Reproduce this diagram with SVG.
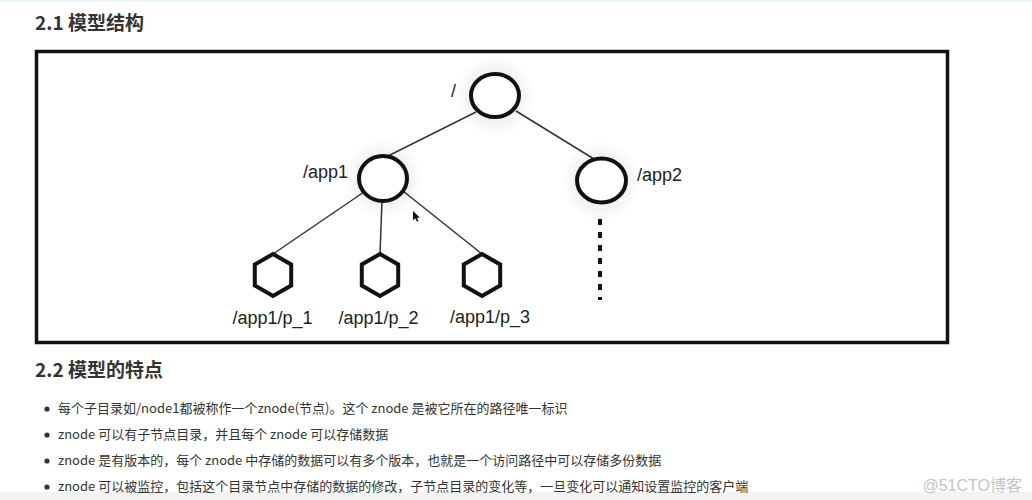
<svg xmlns="http://www.w3.org/2000/svg" width="1032" height="500" viewBox="0 0 1032 500">
  <style>
    .h { font-family: "Noto Sans CJK SC", "Noto Sans", sans-serif; font-size: 19px; font-weight: bold; fill: #333; }
    .li { font-family: "Noto Sans CJK SC", "Noto Sans", sans-serif; font-size: 13px; fill: #333; }
    .lbl { font-family: "Liberation Sans", Arial, sans-serif; font-size: 18px; fill: #222; }
    .circ { fill: #fff; stroke: #111; stroke-width: 4; }
    .hex { fill: #fff; stroke: #111; stroke-width: 4; stroke-linejoin: miter; }
    .conn { stroke: #333; stroke-width: 1.5; fill: none; }
    .halo { fill: url(#glow); }
  </style>
  <defs>
    <radialGradient id="glow">
      <stop offset="0.5" stop-color="#000" stop-opacity="0.07"/>
      <stop offset="1" stop-color="#000" stop-opacity="0"/>
    </radialGradient>
  </defs>
  <rect x="0" y="0" width="1032" height="500" fill="#fff"/>
  <rect x="0" y="0" width="1032" height="2" fill="#e6f5f9"/>
  <rect x="0" y="492" width="1032" height="8" fill="#f3f3f3"/>

  <text class="h" x="35" y="30">2.1 模型结构</text>

  <rect id="frame" x="36.5" y="51.5" width="911" height="291" fill="#fff" stroke="#111" stroke-width="3.5"/>

  <g id="connectors">
    <line class="conn" x1="476" y1="112" x2="388" y2="156"/>
    <line class="conn" x1="516" y1="111" x2="594" y2="159"/>
    <line class="conn" x1="364" y1="192" x2="273" y2="254"/>
    <line class="conn" x1="382" y1="201" x2="380" y2="254"/>
    <line class="conn" x1="403" y1="191" x2="482" y2="254"/>
    <line x1="600" y1="219" x2="600" y2="300" stroke="#111" stroke-width="4" stroke-dasharray="6 7"/>
  </g>

  <g id="node-root">
    <circle class="halo" cx="495" cy="96" r="40"/>
    <ellipse class="circ" cx="495" cy="95.5" rx="24" ry="21.5"/>
    <text class="lbl" x="451" y="97">/</text>
  </g>
  <g id="node-app1">
    <circle class="halo" cx="383" cy="179" r="40"/>
    <ellipse class="circ" cx="383" cy="178.5" rx="24" ry="22.5"/>
    <text class="lbl" x="303" y="178">/app1</text>
  </g>
  <g id="node-app2">
    <circle class="halo" cx="601" cy="181" r="40"/>
    <ellipse class="circ" cx="601.5" cy="180.5" rx="24.5" ry="22"/>
    <text class="lbl" x="637" y="181">/app2</text>
  </g>
  <g id="node-p1">
    <polygon class="hex" points="273,254 291.2,264.5 291.2,285.5 273,296 254.8,285.5 254.8,264.5"/>
    <text class="lbl" x="272.5" y="324" text-anchor="middle">/app1/p_1</text>
  </g>
  <g id="node-p2">
    <polygon class="hex" points="380,254 398.2,264.5 398.2,285.5 380,296 361.8,285.5 361.8,264.5"/>
    <text class="lbl" x="378.5" y="324" text-anchor="middle">/app1/p_2</text>
  </g>
  <g id="node-p3">
    <polygon class="hex" points="482,254 500.2,264.5 500.2,285.5 482,296 463.8,285.5 463.8,264.5"/>
    <text class="lbl" x="490" y="323" text-anchor="middle">/app1/p_3</text>
  </g>

  <path d="M413,211 l0,9.5 l2.3,-2.2 l1.7,3.4 l1.5,-0.7 l-1.7,-3.3 l3.2,0 z" fill="#111"/>

  <text class="h" x="35" y="377">2.2 模型的特点</text>

  <g fill="#333">
    <circle cx="47" cy="409" r="2.6"/>
    <circle cx="47" cy="435" r="2.6"/>
    <circle cx="47" cy="461" r="2.6"/>
    <circle cx="47" cy="487" r="2.6"/>
  </g>
  <text class="li" x="58" y="413">每个子目录如/node1都被称作一个znode(节点)。这个 znode 是被它所在的路径唯一标识</text>
  <text class="li" x="58" y="439">znode 可以有子节点目录，并且每个 znode 可以存储数据</text>
  <text class="li" x="58" y="465">znode 是有版本的，每个 znode 中存储的数据可以有多个版本，也就是一个访问路径中可以存储多份数据</text>
  <text class="li" x="58" y="491">znode 可以被监控，包括这个目录节点中存储的数据的修改，子节点目录的变化等，一旦变化可以通知设置监控的客户端</text>

  <text x="1022" y="491" text-anchor="end" font-family="Liberation Sans, Noto Sans CJK SC, sans-serif" font-size="16" fill="#c4c4c4">@51CTO博客</text>
</svg>
